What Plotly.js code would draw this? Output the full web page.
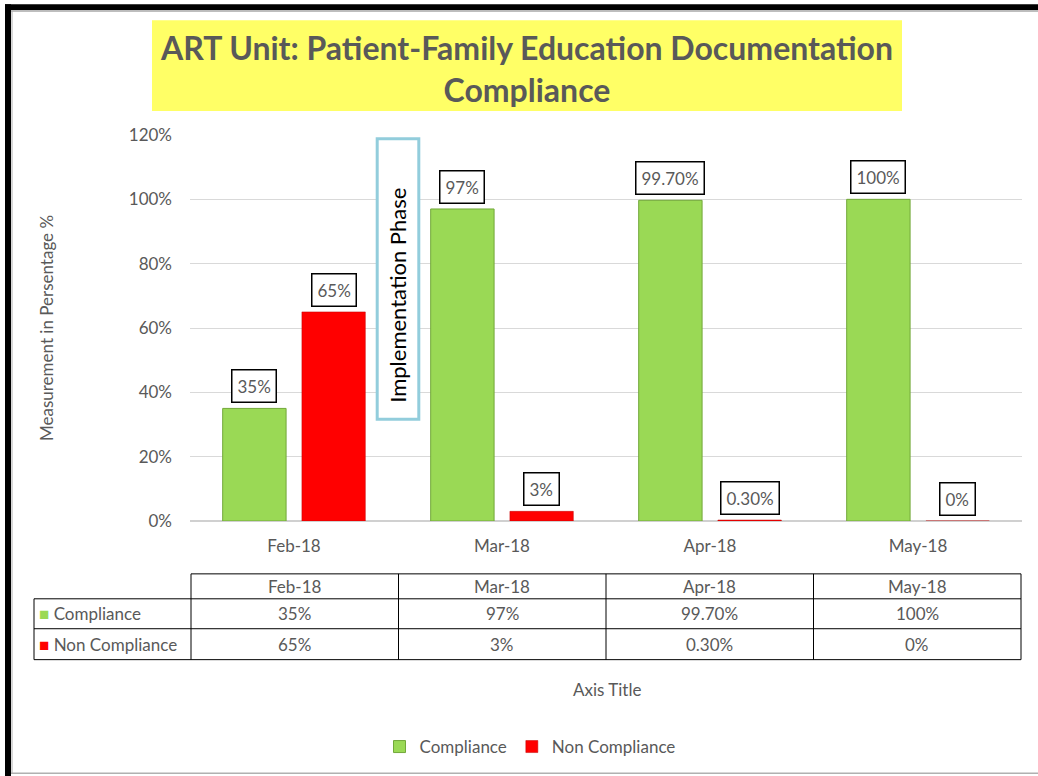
<!DOCTYPE html>
<html>
<head>
<meta charset="utf-8">
<script src="https://cdn.plot.ly/plotly-3.0.1.min.js"></script>
<style>html,body{margin:0;padding:0;background:#fff;}#chart{width:1038px;height:776px;}</style>
</head>
<body>
<div id="chart"></div>
<script>
// ---- data ----
var categories = ["Feb-18", "Mar-18", "Apr-18", "May-18"];
var seriesNames = ["Compliance", "Non Compliance"];
var compliance = [35, 97, 99.7, 100];
var nonCompliance = [65, 3, 0.3, 0];
var yTicks = [0, 20, 40, 60, 80, 100, 120];
var titleText = "ART Unit: Patient-Family Education Documentation<br>Compliance";
var yTitle = "Measurement in Persentage %";
var xTitle = "Axis Title";
var phaseLabel = "Implementation Phase";

// ---- styles ----
var GREEN = "#9ad955", GREEN_LINE = "#72a83a";
var RED = "#ff0000", RED_LINE = "#c00000";
var TXT = "#595959";
var FONT = "Lato, 'Open Sans', sans-serif";
var FS = 17;
var W = 1038, H = 776;
var M = {l: 190, r: 16, t: 135, b: 254};
var PW = W - M.l - M.r, PH = H - M.t - M.b;
function px(x) { return (x - M.l) / PW; }
function py(y) { return (H - M.b - y) / PH; }
function fmt(v) { return (Math.round(v) === v ? String(v) : v.toFixed(2)) + "%"; }

var bargap = 0.238, bargroupgap = 0.2;
var off = (1 - bargap) / 4;

var traces = [
  {type: "bar", name: seriesNames[0], x: categories, y: compliance,
   marker: {color: GREEN, line: {color: GREEN_LINE, width: 1}}, hoverinfo: "x+y"},
  {type: "bar", name: seriesNames[1], x: categories, y: nonCompliance,
   marker: {color: RED, line: {color: RED_LINE, width: 0.5}}, hoverinfo: "x+y"}
];

var annotations = [];
var shapes = [];
// data labels
[compliance, nonCompliance].forEach(function (arr, s) {
  arr.forEach(function (v, i) {
    annotations.push({
      xref: "x", yref: "y", x: i + (s === 0 ? -off : off), y: v,
      xanchor: "center", yanchor: "bottom", yshift: 5, showarrow: false, text: fmt(v),
      font: {family: FONT, size: FS, color: TXT},
      bgcolor: "#ffffff", bordercolor: "#000000", borderwidth: 1.5, borderpad: 5
    });
  });
});

// implementation phase box
shapes.push({type: "rect", xref: "x", yref: "y", x0: 0.4, x1: 0.6, y0: 31.6, y1: 118.8,
  line: {color: "#92cddc", width: 3}, fillcolor: "#ffffff", layer: "above"});
annotations.push({xref: "x", yref: "y", x: 0.5, y: 70, xanchor: "center", yanchor: "middle",
  textangle: -90, showarrow: false,
  text: phaseLabel, font: {family: FONT, size: 22, color: "#000000"}});

// title background
shapes.push({type: "rect", xref: "paper", yref: "paper", x0: px(152), x1: px(902), y0: py(111), y1: py(20),
  line: {width: 0}, fillcolor: "#ffff66", layer: "below"});

// outer frame
shapes.push({type: "rect", xref: "paper", yref: "paper", x0: px(5), x1: px(1040), y0: py(10), y1: py(4),
  line: {width: 0}, fillcolor: "#000000"});
shapes.push({type: "rect", xref: "paper", yref: "paper", x0: px(5), x1: px(11), y0: py(778), y1: py(4),
  line: {width: 0}, fillcolor: "#000000"});
shapes.push({type: "line", xref: "paper", yref: "paper", x0: px(11), x1: px(1040), y0: py(11), y1: py(11),
  line: {color: "#b0b0b0", width: 1}});
shapes.push({type: "line", xref: "paper", yref: "paper", x0: px(12), x1: px(12), y0: py(11), y1: py(775),
  line: {color: "#b0b0b0", width: 1}});
shapes.push({type: "line", xref: "paper", yref: "paper", x0: px(11), x1: px(1040), y0: py(775), y1: py(775),
  line: {color: "#b0b0b0", width: 1.5}});

// data table
var tLeft = 34, tFirst = 191, tRight = 1021;
var rowY = [575, 600, 630, 661];
var colW = (tRight - tFirst) / categories.length;
var tl = {color: "#000000", width: 1};
shapes.push({type: "line", xref: "paper", yref: "paper", x0: px(tFirst), x1: px(tRight), y0: py(rowY[0]), y1: py(rowY[0]), line: tl});
for (var r = 1; r < rowY.length; r++) {
  shapes.push({type: "line", xref: "paper", yref: "paper", x0: px(tLeft), x1: px(tRight), y0: py(rowY[r]), y1: py(rowY[r]), line: tl});
}
shapes.push({type: "line", xref: "paper", yref: "paper", x0: px(tLeft), x1: px(tLeft), y0: py(rowY[1]), y1: py(rowY[3]), line: tl});
for (var c = 0; c <= categories.length; c++) {
  var xx = tFirst + c * colW;
  shapes.push({type: "line", xref: "paper", yref: "paper", x0: px(xx), x1: px(xx), y0: py(rowY[0]), y1: py(rowY[3]), line: tl});
}
var tableRows = [categories, compliance.map(fmt), nonCompliance.map(fmt)];
tableRows.forEach(function (row, r) {
  var yc = (rowY[r] + rowY[r + 1]) / 2;
  row.forEach(function (t, c) {
    annotations.push({xref: "paper", yref: "paper", x: px(tFirst + (c + 0.5) * colW), y: py(yc),
      xanchor: "center", yanchor: "middle",
      showarrow: false, text: t, font: {family: FONT, size: FS, color: TXT}});
  });
});
[[GREEN, seriesNames[0]], [RED, seriesNames[1]]].forEach(function (p, k) {
  var yc = (rowY[k + 1] + rowY[k + 2]) / 2;
  annotations.push({xref: "paper", yref: "paper", x: px(tLeft + 3), y: py(yc), xanchor: "left", yanchor: "middle",
    showarrow: false, text: '<span style="color:' + p[0] + '">■</span> ' + p[1],
    font: {family: FONT, size: FS, color: TXT}});
});

// x axis title
annotations.push({xref: "paper", yref: "paper", x: px(607), y: py(691), xanchor: "center", yanchor: "middle",
  showarrow: false, text: xTitle, font: {family: FONT, size: FS, color: TXT}});

var layout = {
  width: W, height: H,
  margin: M,
  paper_bgcolor: "#ffffff", plot_bgcolor: "#ffffff",
  font: {family: FONT, color: TXT},
  title: {text: titleText, font: {family: FONT, size: 32, color: TXT, weight: "bold"},
    xref: "container", yref: "container", x: 527 / W, xanchor: "center", y: 1 - 60 / H, yanchor: "middle"},
  barmode: "group", bargap: bargap, bargroupgap: bargroupgap,
  showlegend: true,
  legend: {orientation: "h", xref: "paper", yref: "paper", x: px(530), xanchor: "center",
    y: py(747), yanchor: "middle", font: {family: FONT, size: FS, color: TXT}, itemwidth: 30},
  xaxis: {type: "category", showgrid: false, showline: false, zeroline: false, ticks: "",
    tickfont: {family: FONT, size: FS, color: TXT}, ticklabelstandoff: 13},
  yaxis: {range: [0, 120], tickvals: yTicks, ticktext: yTicks.map(function (v) { return v + "%"; }),
    showgrid: true, gridcolor: "#d9d9d9", gridwidth: 1, zeroline: true, zerolinecolor: "#d0d0d0", zerolinewidth: 2,
    showline: false, ticks: "", tickfont: {family: FONT, size: FS, color: TXT}, ticklabelstandoff: 17,
    title: {text: yTitle, font: {family: FONT, size: 17, color: TXT}, standoff: 70}},
  shapes: shapes,
  annotations: annotations
};

Plotly.newPlot("chart", traces, layout, {displayModeBar: false, staticPlot: true});
</script>
</body>
</html>
